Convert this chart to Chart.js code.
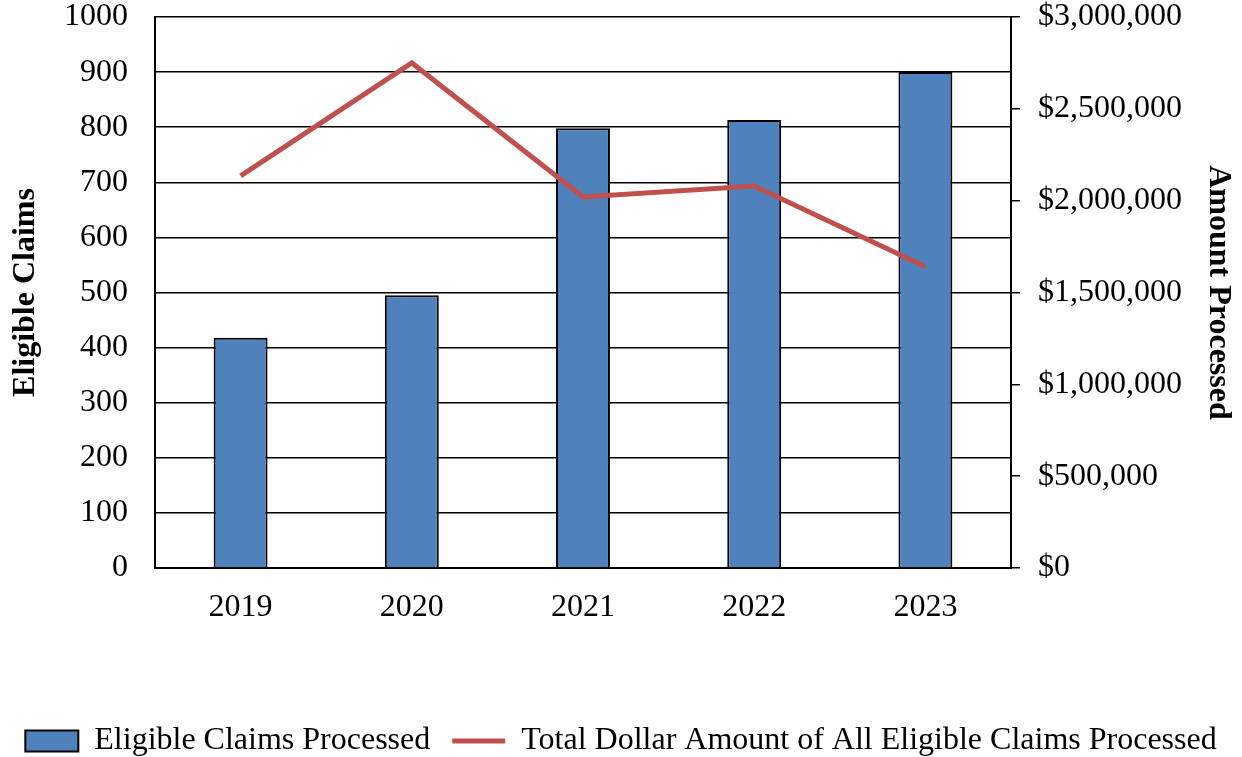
<!DOCTYPE html>
<html>
<head>
<meta charset="utf-8">
<script src="https://cdn.jsdelivr.net/npm/chart.js@4"></script>
<style>
  html, body { margin: 0; padding: 0; background: #fff; }
  #wrap { width: 1242px; height: 757px; }
</style>
</head>
<body>
<div id="wrap"><canvas id="myChart" width="1242" height="757"></canvas></div>
<script>
const years = ['2019', '2020', '2021', '2022', '2023'];
const claimsProcessed = [418, 495, 798, 813, 900];
const dollarAmounts = [2135000, 2750000, 2020000, 2080000, 1640000];
const seriesNames = ['Eligible Claims Processed', 'Total Dollar Amount of All Eligible Claims Processed'];

const serif = '"Liberation Serif", "Times New Roman", serif';
const barBlue = '#4F81BD';
const lineRed = '#C0504D';

Chart.defaults.font.family = serif;
Chart.defaults.color = '#000';

// keep the plot area where the reference has it (tick padding would push it down)
function fixVerticalPadding(scale) {
  scale.paddingTop = 17;
  scale.paddingBottom = 17;
}

const ctx = document.getElementById('myChart');
new Chart(ctx, {
  type: 'bar',
  data: {
    labels: years,
    datasets: [
      {
        type: 'line',
        label: seriesNames[1],
        data: dollarAmounts,
        yAxisID: 'y1',
        borderColor: lineRed,
        backgroundColor: lineRed,
        borderWidth: 5,
        pointRadius: 0,
        tension: 0,
        order: 0
      },
      {
        type: 'bar',
        label: seriesNames[0],
        data: claimsProcessed,
        yAxisID: 'y',
        backgroundColor: barBlue,
        borderColor: '#000',
        borderWidth: 2,
        categoryPercentage: 1,
        barPercentage: 0.315,
        order: 1
      }
    ]
  },
  options: {
    responsive: false,
    animation: false,
    layout: { padding: { top: 17, bottom: -10, left: 0, right: 0 } },
    plugins: {
      tooltip: { enabled: false },
      legend: {
        position: 'bottom',
        labels: {
          usePointStyle: true,
          pointStyleWidth: 53,
          boxHeight: 21,
          padding: 22,
          font: { size: 32, lineHeight: 1 },
          color: '#000',
          generateLabels: function(chart) {
            return [
              { text: seriesNames[0], pointStyle: 'rect', fillStyle: barBlue, strokeStyle: '#000', lineWidth: 2, datasetIndex: 1, fontColor: '#000' },
              { text: seriesNames[1], pointStyle: 'line', fillStyle: lineRed, strokeStyle: lineRed, lineWidth: 5, datasetIndex: 0, fontColor: '#000' }
            ];
          }
        }
      }
    },
    scales: {
      x: {
        grid: { display: false },
        border: { display: true, color: '#000', width: 2 },
        ticks: { padding: 16, font: { size: 32, lineHeight: 1 }, color: '#000' },
        afterFit: function(scale) { scale.height = 135; }
      },
      y: {
        position: 'left',
        min: 0,
        max: 1000,
        ticks: {
          stepSize: 100,
          padding: 27,
          font: { size: 32, lineHeight: 1 },
          color: '#000',
          callback: function(value) { return String(value); }
        },
        grid: { color: '#000', lineWidth: 1.5, drawTicks: false },
        border: { display: true, color: '#000', width: 2 },
        title: {
          display: true,
          text: 'Eligible Claims',
          font: { size: 32, weight: 'bold', lineHeight: 1 },
          color: '#000',
          padding: { top: 10, bottom: 0 }
        },
        afterFit: function(scale) {
          scale.width = 155;
          fixVerticalPadding(scale);
        }
      },
      y1: {
        position: 'right',
        min: 0,
        max: 3000000,
        ticks: {
          stepSize: 500000,
          padding: 18,
          font: { size: 32, lineHeight: 1 },
          color: '#000',
          callback: function(value) { return '$' + Number(value).toLocaleString('en-US'); }
        },
        grid: { drawOnChartArea: false, color: '#000', lineWidth: 1.5, tickLength: 9 },
        border: { display: true, color: '#000', width: 2 },
        title: {
          display: true,
          text: 'Amount Processed',
          font: { size: 32, weight: 'bold', lineHeight: 1 },
          color: '#000',
          padding: { top: 8, bottom: 0 }
        },
        afterFit: function(scale) {
          scale.width = 231;
          fixVerticalPadding(scale);
        }
      }
    }
  }
});
</script>
</body>
</html>
